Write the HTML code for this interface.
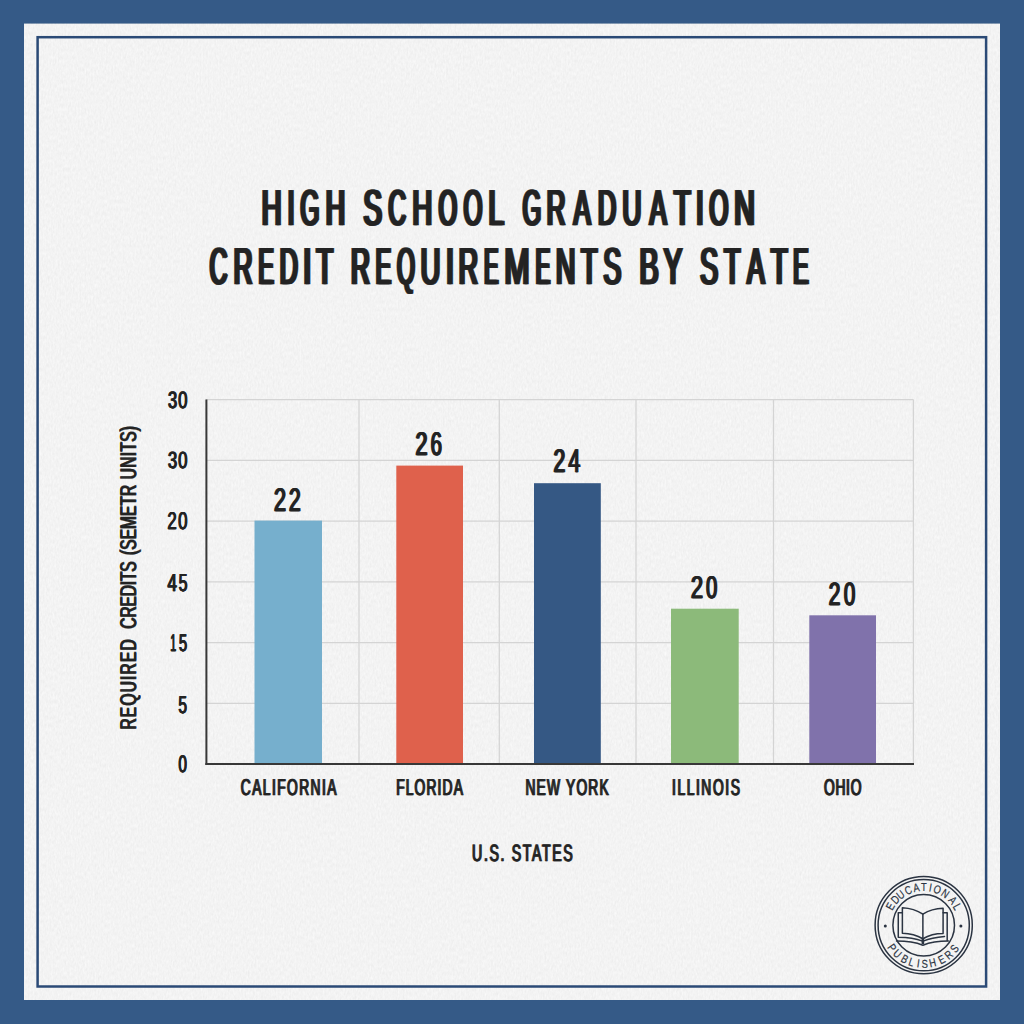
<!DOCTYPE html>
<html><head><meta charset="utf-8"><style>
html,body{margin:0;padding:0;background:#355a87;}
svg{display:block;font-family:"Liberation Sans",sans-serif;text-rendering:geometricPrecision;}
</style></head><body>
<svg width="1024" height="1024" viewBox="0 0 1024 1024">
<rect x="0" y="0" width="1024" height="1024" fill="#355a87"/>
<defs><filter id="paper" x="0" y="0" width="100%" height="100%" color-interpolation-filters="sRGB"><feTurbulence type="fractalNoise" baseFrequency="0.6 0.25" numOctaves="4" seed="11" result="n"/><feColorMatrix in="n" type="matrix" values="0.6 0.4 0 0 0  0.6 0.4 0 0 0  0.6 0.4 0 0 0  0 0 0 0 0.08"/></filter></defs>
<rect x="24" y="23.6" width="976" height="976.4" fill="#fdfdfd"/>
<rect x="24" y="23.6" width="976" height="976.4" filter="url(#paper)"/>
<rect x="37.6" y="37.2" width="948.5" height="949.3" fill="none" stroke="#2b4a76" stroke-width="2.5"/>
<g stroke="#d4d4d4" stroke-width="1.25"><line x1="206" y1="399.60" x2="913.4" y2="399.60"/><line x1="206" y1="460.35" x2="913.4" y2="460.35"/><line x1="206" y1="521.10" x2="913.4" y2="521.10"/><line x1="206" y1="581.85" x2="913.4" y2="581.85"/><line x1="206" y1="642.60" x2="913.4" y2="642.60"/><line x1="206" y1="703.35" x2="913.4" y2="703.35"/><line x1="359.00" y1="399.6" x2="359.00" y2="764"/><line x1="499.30" y1="399.6" x2="499.30" y2="764"/><line x1="636.00" y1="399.6" x2="636.00" y2="764"/><line x1="773.50" y1="399.6" x2="773.50" y2="764"/><line x1="913.40" y1="399.6" x2="913.40" y2="764"/></g>
<rect x="254.5" y="520.6" width="67.50" height="243.40" fill="#76afcd"/><rect x="396.3" y="465.6" width="66.70" height="298.40" fill="#df614c"/><rect x="534.0" y="483.2" width="66.80" height="280.80" fill="#355884"/><rect x="671.0" y="608.7" width="67.70" height="155.30" fill="#8cba7a"/><rect x="809.3" y="615.3" width="66.70" height="148.70" fill="#8072ab"/>
<line x1="206.4" y1="399.5" x2="206.4" y2="765" stroke="#383838" stroke-width="2"/>
<line x1="205.4" y1="764" x2="914" y2="764" stroke="#383838" stroke-width="2"/>
<g fill="#232323" stroke="#232323" font-weight="400"><text transform="translate(260.29,224.80) scale(0.5491,1)" font-size="50.44" stroke-width="0.6">H</text><text transform="translate(261.69,224.80) scale(0.5491,1)" font-size="50.44" stroke-width="0.6">H</text><text transform="translate(263.09,224.80) scale(0.5491,1)" font-size="50.44" stroke-width="0.6">H</text><text transform="translate(286.17,224.80) scale(0.4902,1)" font-size="50.44" stroke-width="0.6">I</text><text transform="translate(287.57,224.80) scale(0.4902,1)" font-size="50.44" stroke-width="0.6">I</text><text transform="translate(288.97,224.80) scale(0.4902,1)" font-size="50.44" stroke-width="0.6">I</text><text transform="translate(298.92,224.80) scale(0.4832,1)" font-size="50.44" stroke-width="0.6">G</text><text transform="translate(300.32,224.80) scale(0.4832,1)" font-size="50.44" stroke-width="0.6">G</text><text transform="translate(301.72,224.80) scale(0.4832,1)" font-size="50.44" stroke-width="0.6">G</text><text transform="translate(324.36,224.80) scale(0.5317,1)" font-size="50.44" stroke-width="0.6">H</text><text transform="translate(325.76,224.80) scale(0.5317,1)" font-size="50.44" stroke-width="0.6">H</text><text transform="translate(327.16,224.80) scale(0.5317,1)" font-size="50.44" stroke-width="0.6">H</text><text transform="translate(362.11,224.80) scale(0.5466,1)" font-size="50.44" stroke-width="0.6">S</text><text transform="translate(363.51,224.80) scale(0.5466,1)" font-size="50.44" stroke-width="0.6">S</text><text transform="translate(364.91,224.80) scale(0.5466,1)" font-size="50.44" stroke-width="0.6">S</text><text transform="translate(387.01,224.80) scale(0.4825,1)" font-size="50.44" stroke-width="0.6">C</text><text transform="translate(388.41,224.80) scale(0.4825,1)" font-size="50.44" stroke-width="0.6">C</text><text transform="translate(389.81,224.80) scale(0.4825,1)" font-size="50.44" stroke-width="0.6">C</text><text transform="translate(410.91,224.80) scale(0.5456,1)" font-size="50.44" stroke-width="0.6">H</text><text transform="translate(412.31,224.80) scale(0.5456,1)" font-size="50.44" stroke-width="0.6">H</text><text transform="translate(413.71,224.80) scale(0.5456,1)" font-size="50.44" stroke-width="0.6">H</text><text transform="translate(437.33,224.80) scale(0.4625,1)" font-size="50.44" stroke-width="0.6">O</text><text transform="translate(438.73,224.80) scale(0.4625,1)" font-size="50.44" stroke-width="0.6">O</text><text transform="translate(440.13,224.80) scale(0.4625,1)" font-size="50.44" stroke-width="0.6">O</text><text transform="translate(462.20,224.80) scale(0.4768,1)" font-size="50.44" stroke-width="0.6">O</text><text transform="translate(463.60,224.80) scale(0.4768,1)" font-size="50.44" stroke-width="0.6">O</text><text transform="translate(465.00,224.80) scale(0.4768,1)" font-size="50.44" stroke-width="0.6">O</text><text transform="translate(486.95,224.80) scale(0.5605,1)" font-size="50.44" stroke-width="0.6">L</text><text transform="translate(488.35,224.80) scale(0.5605,1)" font-size="50.44" stroke-width="0.6">L</text><text transform="translate(489.75,224.80) scale(0.5605,1)" font-size="50.44" stroke-width="0.6">L</text><text transform="translate(521.25,224.80) scale(0.4713,1)" font-size="50.44" stroke-width="0.6">G</text><text transform="translate(522.65,224.80) scale(0.4713,1)" font-size="50.44" stroke-width="0.6">G</text><text transform="translate(524.05,224.80) scale(0.4713,1)" font-size="50.44" stroke-width="0.6">G</text><text transform="translate(545.22,224.80) scale(0.5172,1)" font-size="50.44" stroke-width="0.6">R</text><text transform="translate(546.62,224.80) scale(0.5172,1)" font-size="50.44" stroke-width="0.6">R</text><text transform="translate(548.02,224.80) scale(0.5172,1)" font-size="50.44" stroke-width="0.6">R</text><text transform="translate(572.20,224.80) scale(0.5052,1)" font-size="50.44" stroke-width="0.6">A</text><text transform="translate(573.60,224.80) scale(0.5052,1)" font-size="50.44" stroke-width="0.6">A</text><text transform="translate(575.00,224.80) scale(0.5052,1)" font-size="50.44" stroke-width="0.6">A</text><text transform="translate(596.47,224.80) scale(0.5021,1)" font-size="50.44" stroke-width="0.6">D</text><text transform="translate(597.87,224.80) scale(0.5021,1)" font-size="50.44" stroke-width="0.6">D</text><text transform="translate(599.27,224.80) scale(0.5021,1)" font-size="50.44" stroke-width="0.6">D</text><text transform="translate(620.92,224.80) scale(0.5232,1)" font-size="50.44" stroke-width="0.6">U</text><text transform="translate(622.32,224.80) scale(0.5232,1)" font-size="50.44" stroke-width="0.6">U</text><text transform="translate(623.72,224.80) scale(0.5232,1)" font-size="50.44" stroke-width="0.6">U</text><text transform="translate(648.30,224.80) scale(0.5052,1)" font-size="50.44" stroke-width="0.6">A</text><text transform="translate(649.70,224.80) scale(0.5052,1)" font-size="50.44" stroke-width="0.6">A</text><text transform="translate(651.10,224.80) scale(0.5052,1)" font-size="50.44" stroke-width="0.6">A</text><text transform="translate(672.45,224.80) scale(0.5461,1)" font-size="50.44" stroke-width="0.6">T</text><text transform="translate(673.85,224.80) scale(0.5461,1)" font-size="50.44" stroke-width="0.6">T</text><text transform="translate(675.25,224.80) scale(0.5461,1)" font-size="50.44" stroke-width="0.6">T</text><text transform="translate(694.44,224.80) scale(0.5656,1)" font-size="50.44" stroke-width="0.6">I</text><text transform="translate(695.84,224.80) scale(0.5656,1)" font-size="50.44" stroke-width="0.6">I</text><text transform="translate(697.24,224.80) scale(0.5656,1)" font-size="50.44" stroke-width="0.6">I</text><text transform="translate(708.10,224.80) scale(0.4768,1)" font-size="50.44" stroke-width="0.6">O</text><text transform="translate(709.50,224.80) scale(0.4768,1)" font-size="50.44" stroke-width="0.6">O</text><text transform="translate(710.90,224.80) scale(0.4768,1)" font-size="50.44" stroke-width="0.6">O</text><text transform="translate(732.84,224.80) scale(0.5630,1)" font-size="50.44" stroke-width="0.6">N</text><text transform="translate(734.24,224.80) scale(0.5630,1)" font-size="50.44" stroke-width="0.6">N</text><text transform="translate(735.64,224.80) scale(0.5630,1)" font-size="50.44" stroke-width="0.6">N</text><text transform="translate(208.30,284.30) scale(0.4735,1)" font-size="51.74" stroke-width="0.6">C</text><text transform="translate(209.70,284.30) scale(0.4735,1)" font-size="51.74" stroke-width="0.6">C</text><text transform="translate(211.10,284.30) scale(0.4735,1)" font-size="51.74" stroke-width="0.6">C</text><text transform="translate(232.31,284.30) scale(0.5044,1)" font-size="51.74" stroke-width="0.6">R</text><text transform="translate(233.71,284.30) scale(0.5044,1)" font-size="51.74" stroke-width="0.6">R</text><text transform="translate(235.11,284.30) scale(0.5044,1)" font-size="51.74" stroke-width="0.6">R</text><text transform="translate(256.94,284.30) scale(0.4469,1)" font-size="51.74" stroke-width="0.6">E</text><text transform="translate(258.34,284.30) scale(0.4469,1)" font-size="51.74" stroke-width="0.6">E</text><text transform="translate(259.74,284.30) scale(0.4469,1)" font-size="51.74" stroke-width="0.6">E</text><text transform="translate(278.27,284.30) scale(0.4896,1)" font-size="51.74" stroke-width="0.6">D</text><text transform="translate(279.67,284.30) scale(0.4896,1)" font-size="51.74" stroke-width="0.6">D</text><text transform="translate(281.07,284.30) scale(0.4896,1)" font-size="51.74" stroke-width="0.6">D</text><text transform="translate(301.83,284.30) scale(0.5529,1)" font-size="51.74" stroke-width="0.6">I</text><text transform="translate(303.23,284.30) scale(0.5529,1)" font-size="51.74" stroke-width="0.6">I</text><text transform="translate(304.63,284.30) scale(0.5529,1)" font-size="51.74" stroke-width="0.6">I</text><text transform="translate(315.04,284.30) scale(0.5292,1)" font-size="51.74" stroke-width="0.6">T</text><text transform="translate(316.44,284.30) scale(0.5292,1)" font-size="51.74" stroke-width="0.6">T</text><text transform="translate(317.84,284.30) scale(0.5292,1)" font-size="51.74" stroke-width="0.6">T</text><text transform="translate(349.61,284.30) scale(0.5044,1)" font-size="51.74" stroke-width="0.6">R</text><text transform="translate(351.01,284.30) scale(0.5044,1)" font-size="51.74" stroke-width="0.6">R</text><text transform="translate(352.41,284.30) scale(0.5044,1)" font-size="51.74" stroke-width="0.6">R</text><text transform="translate(374.22,284.30) scale(0.4503,1)" font-size="51.74" stroke-width="0.6">E</text><text transform="translate(375.62,284.30) scale(0.4503,1)" font-size="51.74" stroke-width="0.6">E</text><text transform="translate(377.02,284.30) scale(0.4503,1)" font-size="51.74" stroke-width="0.6">E</text><text transform="translate(395.75,284.30) scale(0.4398,1)" font-size="51.74" stroke-width="0.6">Q</text><text transform="translate(397.15,284.30) scale(0.4398,1)" font-size="51.74" stroke-width="0.6">Q</text><text transform="translate(398.55,284.30) scale(0.4398,1)" font-size="51.74" stroke-width="0.6">Q</text><text transform="translate(419.15,284.30) scale(0.5269,1)" font-size="51.74" stroke-width="0.6">U</text><text transform="translate(420.55,284.30) scale(0.5269,1)" font-size="51.74" stroke-width="0.6">U</text><text transform="translate(421.95,284.30) scale(0.5269,1)" font-size="51.74" stroke-width="0.6">U</text><text transform="translate(444.44,284.30) scale(0.5713,1)" font-size="51.74" stroke-width="0.6">I</text><text transform="translate(445.84,284.30) scale(0.5713,1)" font-size="51.74" stroke-width="0.6">I</text><text transform="translate(447.24,284.30) scale(0.5713,1)" font-size="51.74" stroke-width="0.6">I</text><text transform="translate(457.15,284.30) scale(0.5204,1)" font-size="51.74" stroke-width="0.6">R</text><text transform="translate(458.55,284.30) scale(0.5204,1)" font-size="51.74" stroke-width="0.6">R</text><text transform="translate(459.95,284.30) scale(0.5204,1)" font-size="51.74" stroke-width="0.6">R</text><text transform="translate(482.68,284.30) scale(0.4119,1)" font-size="51.74" stroke-width="0.6">E</text><text transform="translate(484.08,284.30) scale(0.4119,1)" font-size="51.74" stroke-width="0.6">E</text><text transform="translate(485.48,284.30) scale(0.4119,1)" font-size="51.74" stroke-width="0.6">E</text><text transform="translate(502.99,284.30) scale(0.5850,1)" font-size="51.74" stroke-width="0.6">M</text><text transform="translate(504.39,284.30) scale(0.5850,1)" font-size="51.74" stroke-width="0.6">M</text><text transform="translate(505.79,284.30) scale(0.5850,1)" font-size="51.74" stroke-width="0.6">M</text><text transform="translate(534.36,284.30) scale(0.4154,1)" font-size="51.74" stroke-width="0.6">E</text><text transform="translate(535.76,284.30) scale(0.4154,1)" font-size="51.74" stroke-width="0.6">E</text><text transform="translate(537.16,284.30) scale(0.4154,1)" font-size="51.74" stroke-width="0.6">E</text><text transform="translate(554.44,284.30) scale(0.5220,1)" font-size="51.74" stroke-width="0.6">N</text><text transform="translate(555.84,284.30) scale(0.5220,1)" font-size="51.74" stroke-width="0.6">N</text><text transform="translate(557.24,284.30) scale(0.5220,1)" font-size="51.74" stroke-width="0.6">N</text><text transform="translate(579.66,284.30) scale(0.5124,1)" font-size="51.74" stroke-width="0.6">T</text><text transform="translate(581.06,284.30) scale(0.5124,1)" font-size="51.74" stroke-width="0.6">T</text><text transform="translate(582.46,284.30) scale(0.5124,1)" font-size="51.74" stroke-width="0.6">T</text><text transform="translate(602.04,284.30) scale(0.5166,1)" font-size="51.74" stroke-width="0.6">S</text><text transform="translate(603.44,284.30) scale(0.5166,1)" font-size="51.74" stroke-width="0.6">S</text><text transform="translate(604.84,284.30) scale(0.5166,1)" font-size="51.74" stroke-width="0.6">S</text><text transform="translate(637.99,284.30) scale(0.5615,1)" font-size="51.74" stroke-width="0.6">B</text><text transform="translate(639.39,284.30) scale(0.5615,1)" font-size="51.74" stroke-width="0.6">B</text><text transform="translate(640.79,284.30) scale(0.5615,1)" font-size="51.74" stroke-width="0.6">B</text><text transform="translate(662.25,284.30) scale(0.5390,1)" font-size="51.74" stroke-width="0.6">Y</text><text transform="translate(663.65,284.30) scale(0.5390,1)" font-size="51.74" stroke-width="0.6">Y</text><text transform="translate(665.05,284.30) scale(0.5390,1)" font-size="51.74" stroke-width="0.6">Y</text><text transform="translate(698.73,284.30) scale(0.5199,1)" font-size="51.74" stroke-width="0.6">S</text><text transform="translate(700.13,284.30) scale(0.5199,1)" font-size="51.74" stroke-width="0.6">S</text><text transform="translate(701.53,284.30) scale(0.5199,1)" font-size="51.74" stroke-width="0.6">S</text><text transform="translate(722.76,284.30) scale(0.5124,1)" font-size="51.74" stroke-width="0.6">T</text><text transform="translate(724.16,284.30) scale(0.5124,1)" font-size="51.74" stroke-width="0.6">T</text><text transform="translate(725.56,284.30) scale(0.5124,1)" font-size="51.74" stroke-width="0.6">T</text><text transform="translate(745.70,284.30) scale(0.5070,1)" font-size="51.74" stroke-width="0.6">A</text><text transform="translate(747.10,284.30) scale(0.5070,1)" font-size="51.74" stroke-width="0.6">A</text><text transform="translate(748.50,284.30) scale(0.5070,1)" font-size="51.74" stroke-width="0.6">A</text><text transform="translate(769.54,284.30) scale(0.5292,1)" font-size="51.74" stroke-width="0.6">T</text><text transform="translate(770.94,284.30) scale(0.5292,1)" font-size="51.74" stroke-width="0.6">T</text><text transform="translate(772.34,284.30) scale(0.5292,1)" font-size="51.74" stroke-width="0.6">T</text><text transform="translate(791.74,284.30) scale(0.4469,1)" font-size="51.74" stroke-width="0.6">E</text><text transform="translate(793.14,284.30) scale(0.4469,1)" font-size="51.74" stroke-width="0.6">E</text><text transform="translate(794.54,284.30) scale(0.4469,1)" font-size="51.74" stroke-width="0.6">E</text></g><g fill="#232323" stroke="#232323" font-weight="700"><text transform="translate(167.58,407.65) scale(0.6937,1)" font-size="23.69" stroke-width="0.3" font-weight="400">3</text><text transform="translate(167.98,407.65) scale(0.6937,1)" font-size="23.69" stroke-width="0.3" font-weight="400">3</text><text transform="translate(168.38,407.65) scale(0.6937,1)" font-size="23.69" stroke-width="0.3" font-weight="400">3</text><text transform="translate(177.75,407.65) scale(0.7054,1)" font-size="23.69" stroke-width="0.3" font-weight="400">0</text><text transform="translate(178.15,407.65) scale(0.7054,1)" font-size="23.69" stroke-width="0.3" font-weight="400">0</text><text transform="translate(178.55,407.65) scale(0.7054,1)" font-size="23.69" stroke-width="0.3" font-weight="400">0</text><text transform="translate(167.58,468.25) scale(0.7021,1)" font-size="23.40" stroke-width="0.3" font-weight="400">3</text><text transform="translate(167.98,468.25) scale(0.7021,1)" font-size="23.40" stroke-width="0.3" font-weight="400">3</text><text transform="translate(168.38,468.25) scale(0.7021,1)" font-size="23.40" stroke-width="0.3" font-weight="400">3</text><text transform="translate(177.75,468.25) scale(0.7139,1)" font-size="23.40" stroke-width="0.3" font-weight="400">0</text><text transform="translate(178.15,468.25) scale(0.7139,1)" font-size="23.40" stroke-width="0.3" font-weight="400">0</text><text transform="translate(178.55,468.25) scale(0.7139,1)" font-size="23.40" stroke-width="0.3" font-weight="400">0</text><text transform="translate(167.06,529.35) scale(0.6867,1)" font-size="24.27" stroke-width="0.3" font-weight="400">2</text><text transform="translate(167.46,529.35) scale(0.6867,1)" font-size="24.27" stroke-width="0.3" font-weight="400">2</text><text transform="translate(167.86,529.35) scale(0.6867,1)" font-size="24.27" stroke-width="0.3" font-weight="400">2</text><text transform="translate(177.75,529.35) scale(0.6889,1)" font-size="24.27" stroke-width="0.3" font-weight="400">0</text><text transform="translate(178.15,529.35) scale(0.6889,1)" font-size="24.27" stroke-width="0.3" font-weight="400">0</text><text transform="translate(178.55,529.35) scale(0.6889,1)" font-size="24.27" stroke-width="0.3" font-weight="400">0</text><text transform="translate(167.12,590.55) scale(0.6862,1)" font-size="24.56" stroke-width="0.3" font-weight="400">4</text><text transform="translate(167.52,590.55) scale(0.6862,1)" font-size="24.56" stroke-width="0.3" font-weight="400">4</text><text transform="translate(167.92,590.55) scale(0.6862,1)" font-size="24.56" stroke-width="0.3" font-weight="400">4</text><text transform="translate(178.26,590.55) scale(0.6446,1)" font-size="24.56" stroke-width="0.3" font-weight="400">5</text><text transform="translate(178.66,590.55) scale(0.6446,1)" font-size="24.56" stroke-width="0.3" font-weight="400">5</text><text transform="translate(179.06,590.55) scale(0.6446,1)" font-size="24.56" stroke-width="0.3" font-weight="400">5</text><text transform="translate(169.99,650.65) scale(0.4229,1)" font-size="23.98" stroke-width="0.3" font-weight="400">1</text><text transform="translate(170.39,650.65) scale(0.4229,1)" font-size="23.98" stroke-width="0.3" font-weight="400">1</text><text transform="translate(170.79,650.65) scale(0.4229,1)" font-size="23.98" stroke-width="0.3" font-weight="400">1</text><text transform="translate(178.50,650.65) scale(0.6169,1)" font-size="23.98" stroke-width="0.3" font-weight="400">5</text><text transform="translate(178.90,650.65) scale(0.6169,1)" font-size="23.98" stroke-width="0.3" font-weight="400">5</text><text transform="translate(179.30,650.65) scale(0.6169,1)" font-size="23.98" stroke-width="0.3" font-weight="400">5</text><text transform="translate(177.98,713.15) scale(0.6315,1)" font-size="24.42" stroke-width="0.3" font-weight="400">5</text><text transform="translate(178.38,713.15) scale(0.6315,1)" font-size="24.42" stroke-width="0.3" font-weight="400">5</text><text transform="translate(178.78,713.15) scale(0.6315,1)" font-size="24.42" stroke-width="0.3" font-weight="400">5</text><text transform="translate(178.00,772.45) scale(0.6413,1)" font-size="23.84" stroke-width="0.3" font-weight="400">0</text><text transform="translate(178.40,772.45) scale(0.6413,1)" font-size="23.84" stroke-width="0.3" font-weight="400">0</text><text transform="translate(178.80,772.45) scale(0.6413,1)" font-size="23.84" stroke-width="0.3" font-weight="400">0</text><text transform="translate(273.28,510.50) scale(0.6729,1)" font-size="32.56" stroke-width="0.4" font-weight="400">2</text><text transform="translate(273.93,510.50) scale(0.6729,1)" font-size="32.56" stroke-width="0.4" font-weight="400">2</text><text transform="translate(274.58,510.50) scale(0.6729,1)" font-size="32.56" stroke-width="0.4" font-weight="400">2</text><text transform="translate(288.16,510.50) scale(0.6565,1)" font-size="32.56" stroke-width="0.4" font-weight="400">2</text><text transform="translate(288.81,510.50) scale(0.6565,1)" font-size="32.56" stroke-width="0.4" font-weight="400">2</text><text transform="translate(289.46,510.50) scale(0.6565,1)" font-size="32.56" stroke-width="0.4" font-weight="400">2</text><text transform="translate(414.85,454.70) scale(0.6573,1)" font-size="32.85" stroke-width="0.4" font-weight="400">2</text><text transform="translate(415.50,454.70) scale(0.6573,1)" font-size="32.85" stroke-width="0.4" font-weight="400">2</text><text transform="translate(416.15,454.70) scale(0.6573,1)" font-size="32.85" stroke-width="0.4" font-weight="400">2</text><text transform="translate(429.99,454.70) scale(0.6171,1)" font-size="32.85" stroke-width="0.4" font-weight="400">6</text><text transform="translate(430.64,454.70) scale(0.6171,1)" font-size="32.85" stroke-width="0.4" font-weight="400">6</text><text transform="translate(431.29,454.70) scale(0.6171,1)" font-size="32.85" stroke-width="0.4" font-weight="400">6</text><text transform="translate(552.87,471.90) scale(0.6485,1)" font-size="32.63" stroke-width="0.4" font-weight="400">2</text><text transform="translate(553.52,471.90) scale(0.6485,1)" font-size="32.63" stroke-width="0.4" font-weight="400">2</text><text transform="translate(554.17,471.90) scale(0.6485,1)" font-size="32.63" stroke-width="0.4" font-weight="400">2</text><text transform="translate(567.74,471.90) scale(0.6531,1)" font-size="32.63" stroke-width="0.4" font-weight="400">4</text><text transform="translate(568.39,471.90) scale(0.6531,1)" font-size="32.63" stroke-width="0.4" font-weight="400">4</text><text transform="translate(569.04,471.90) scale(0.6531,1)" font-size="32.63" stroke-width="0.4" font-weight="400">4</text><text transform="translate(690.29,597.70) scale(0.6972,1)" font-size="31.40" stroke-width="0.4" font-weight="400">2</text><text transform="translate(690.94,597.70) scale(0.6972,1)" font-size="31.40" stroke-width="0.4" font-weight="400">2</text><text transform="translate(691.59,597.70) scale(0.6972,1)" font-size="31.40" stroke-width="0.4" font-weight="400">2</text><text transform="translate(705.45,597.70) scale(0.6360,1)" font-size="31.40" stroke-width="0.4" font-weight="400">0</text><text transform="translate(706.10,597.70) scale(0.6360,1)" font-size="31.40" stroke-width="0.4" font-weight="400">0</text><text transform="translate(706.75,597.70) scale(0.6360,1)" font-size="31.40" stroke-width="0.4" font-weight="400">0</text><text transform="translate(828.07,604.70) scale(0.6556,1)" font-size="32.27" stroke-width="0.4" font-weight="400">2</text><text transform="translate(828.72,604.70) scale(0.6556,1)" font-size="32.27" stroke-width="0.4" font-weight="400">2</text><text transform="translate(829.37,604.70) scale(0.6556,1)" font-size="32.27" stroke-width="0.4" font-weight="400">2</text><text transform="translate(843.23,604.70) scale(0.6319,1)" font-size="32.27" stroke-width="0.4" font-weight="400">0</text><text transform="translate(843.88,604.70) scale(0.6319,1)" font-size="32.27" stroke-width="0.4" font-weight="400">0</text><text transform="translate(844.53,604.70) scale(0.6319,1)" font-size="32.27" stroke-width="0.4" font-weight="400">0</text></g><text transform="translate(240.29,795.10) scale(0.6000,1)" font-size="22.97" letter-spacing="2.378" fill="#232323" stroke="#232323" stroke-width="0.4" font-weight="400">CALIFORNIA</text><text transform="translate(241.29,795.10) scale(0.6000,1)" font-size="22.97" letter-spacing="2.378" fill="#232323" stroke="#232323" stroke-width="0.4" font-weight="400">CALIFORNIA</text><text transform="translate(395.71,795.10) scale(0.6000,1)" font-size="22.97" letter-spacing="1.915" fill="#232323" stroke="#232323" stroke-width="0.4" font-weight="400">FLORIDA</text><text transform="translate(396.71,795.10) scale(0.6000,1)" font-size="22.97" letter-spacing="1.915" fill="#232323" stroke="#232323" stroke-width="0.4" font-weight="400">FLORIDA</text><text transform="translate(524.92,795.10) scale(0.6000,1)" font-size="22.97" letter-spacing="2.025" fill="#232323" stroke="#232323" stroke-width="0.4" font-weight="400">NEW YORK</text><text transform="translate(525.92,795.10) scale(0.6000,1)" font-size="22.97" letter-spacing="2.025" fill="#232323" stroke="#232323" stroke-width="0.4" font-weight="400">NEW YORK</text><text transform="translate(671.48,795.10) scale(0.6000,1)" font-size="22.97" letter-spacing="2.663" fill="#232323" stroke="#232323" stroke-width="0.4" font-weight="400">ILLINOIS</text><text transform="translate(672.48,795.10) scale(0.6000,1)" font-size="22.97" letter-spacing="2.663" fill="#232323" stroke="#232323" stroke-width="0.4" font-weight="400">ILLINOIS</text><text transform="translate(823.44,795.10) scale(0.6000,1)" font-size="22.97" letter-spacing="1.229" fill="#232323" stroke="#232323" stroke-width="0.4" font-weight="400">OHIO</text><text transform="translate(824.44,795.10) scale(0.6000,1)" font-size="22.97" letter-spacing="1.229" fill="#232323" stroke="#232323" stroke-width="0.4" font-weight="400">OHIO</text><text transform="translate(471.61,860.60) scale(0.6000,1)" font-size="23.55" letter-spacing="2.716" fill="#232323" stroke="#232323" stroke-width="0.4" font-weight="400">U.S. STATES</text><text transform="translate(472.61,860.60) scale(0.6000,1)" font-size="23.55" letter-spacing="2.716" fill="#232323" stroke="#232323" stroke-width="0.4" font-weight="400">U.S. STATES</text>
<text transform="translate(135.90,730.03) rotate(-90) translate(0,0) scale(0.68,1)" font-size="22.67" letter-spacing="1.870" fill="#232323" stroke="#232323" stroke-width="0.4" font-weight="400">REQUIRED</text><text transform="translate(135.90,730.03) rotate(-90) translate(1.0,0) scale(0.68,1)" font-size="22.67" letter-spacing="1.870" fill="#232323" stroke="#232323" stroke-width="0.4" font-weight="400">REQUIRED</text><text transform="translate(135.90,629.18) rotate(-90) translate(0,0) scale(0.68,1)" font-size="22.67" letter-spacing="-0.080" fill="#232323" stroke="#232323" stroke-width="0.4" font-weight="400">CREDITS</text><text transform="translate(135.90,629.18) rotate(-90) translate(1.0,0) scale(0.68,1)" font-size="22.67" letter-spacing="-0.080" fill="#232323" stroke="#232323" stroke-width="0.4" font-weight="400">CREDITS</text><text transform="translate(135.90,555.49) rotate(-90) translate(0,0) scale(0.68,1)" font-size="22.67" letter-spacing="0.187" fill="#232323" stroke="#232323" stroke-width="0.4" font-weight="400">(SEMETR</text><text transform="translate(135.90,555.49) rotate(-90) translate(1.0,0) scale(0.68,1)" font-size="22.67" letter-spacing="0.187" fill="#232323" stroke="#232323" stroke-width="0.4" font-weight="400">(SEMETR</text><text transform="translate(135.90,479.64) rotate(-90) translate(0,0) scale(0.68,1)" font-size="22.67" letter-spacing="0.518" fill="#232323" stroke="#232323" stroke-width="0.4" font-weight="400">UNITS)</text><text transform="translate(135.90,479.64) rotate(-90) translate(1.0,0) scale(0.68,1)" font-size="22.67" letter-spacing="0.518" fill="#232323" stroke="#232323" stroke-width="0.4" font-weight="400">UNITS)</text>

<g fill="none" stroke="#2b3442" stroke-width="1.5">
 <circle cx="923.7" cy="925.2" r="48.6"/>
 <circle cx="923.7" cy="925.2" r="45.6"/>
 <circle cx="923.7" cy="925.2" r="30.8"/>
</g>
<circle cx="885.3" cy="926" r="1.5" fill="#2b3442"/>
<circle cx="960.9" cy="926" r="1.5" fill="#2b3442"/>
<g fill="#2b3442" stroke="#2b3442" stroke-width="0.2"><text transform="translate(923.7,925.2) rotate(-60.50) translate(0,-34.25) scale(0.8,1)" text-anchor="middle" font-size="11.6">E</text><text transform="translate(923.7,925.2) rotate(-48.10) translate(0,-34.25) scale(0.8,1)" text-anchor="middle" font-size="11.6">D</text><text transform="translate(923.7,925.2) rotate(-37.20) translate(0,-34.25) scale(0.8,1)" text-anchor="middle" font-size="11.6">U</text><text transform="translate(923.7,925.2) rotate(-23.80) translate(0,-34.25) scale(0.8,1)" text-anchor="middle" font-size="11.6">C</text><text transform="translate(923.7,925.2) rotate(-11.40) translate(0,-34.25) scale(0.8,1)" text-anchor="middle" font-size="11.6">A</text><text transform="translate(923.7,925.2) rotate(0.30) translate(0,-34.25) scale(0.8,1)" text-anchor="middle" font-size="11.6">T</text><text transform="translate(923.7,925.2) rotate(10.30) translate(0,-34.25) scale(0.8,1)" text-anchor="middle" font-size="11.6">I</text><text transform="translate(923.7,925.2) rotate(20.70) translate(0,-34.25) scale(0.8,1)" text-anchor="middle" font-size="11.6">O</text><text transform="translate(923.7,925.2) rotate(34.50) translate(0,-34.25) scale(0.8,1)" text-anchor="middle" font-size="11.6">N</text><text transform="translate(923.7,925.2) rotate(49.30) translate(0,-34.25) scale(0.8,1)" text-anchor="middle" font-size="11.6">A</text><text transform="translate(923.7,925.2) rotate(61.40) translate(0,-34.25) scale(0.8,1)" text-anchor="middle" font-size="11.6">L</text><text transform="translate(923.7,925.2) rotate(54.50) translate(0,42.75) scale(0.8,1)" text-anchor="middle" font-size="11.6">P</text><text transform="translate(923.7,925.2) rotate(42.80) translate(0,42.75) scale(0.8,1)" text-anchor="middle" font-size="11.6">U</text><text transform="translate(923.7,925.2) rotate(29.50) translate(0,42.75) scale(0.8,1)" text-anchor="middle" font-size="11.6">B</text><text transform="translate(923.7,925.2) rotate(18.30) translate(0,42.75) scale(0.8,1)" text-anchor="middle" font-size="11.6">L</text><text transform="translate(923.7,925.2) rotate(8.00) translate(0,42.75) scale(0.8,1)" text-anchor="middle" font-size="11.6">I</text><text transform="translate(923.7,925.2) rotate(-1.60) translate(0,42.75) scale(0.8,1)" text-anchor="middle" font-size="11.6">S</text><text transform="translate(923.7,925.2) rotate(-13.40) translate(0,42.75) scale(0.8,1)" text-anchor="middle" font-size="11.6">H</text><text transform="translate(923.7,925.2) rotate(-27.40) translate(0,42.75) scale(0.8,1)" text-anchor="middle" font-size="11.6">E</text><text transform="translate(923.7,925.2) rotate(-40.30) translate(0,42.75) scale(0.8,1)" text-anchor="middle" font-size="11.6">R</text><text transform="translate(923.7,925.2) rotate(-52.60) translate(0,42.75) scale(0.8,1)" text-anchor="middle" font-size="11.6">S</text></g>
<g fill="none" stroke="#2b3442" stroke-width="1.5" stroke-linejoin="round" stroke-linecap="round">
 <path d="M 902.37 907.69 Q 914.09 908.27 922.88 914.13 L 922.88 938.74 Q 914.09 933.46 902.37 933.17 Z"/>
 <path d="M 943.09 908.27 Q 931.66 908.57 922.88 914.13 M 922.88 938.74 Q 931.66 933.46 943.09 933.46 L 943.09 908.27"/>
 <path d="M 902.37 912.67 L 898.27 912.67 L 898.27 937.27 Q 912.92 937.56 922.58 941.08"/>
 <path d="M 943.09 912.67 L 947.19 912.67 L 947.19 940.49"/>
 <path d="M 944.55 936.39 Q 931.66 937.56 923.17 941.08"/>
 <path d="M 896.51 941.08 Q 912.33 941.08 922.88 945.18 Q 933.42 941.08 948.36 941.08"/>
</g>
<path d="M 922.88 938.15 L 922.88 944.01" stroke="#2b3442" stroke-width="2.6"/>

</svg>
</body></html>
